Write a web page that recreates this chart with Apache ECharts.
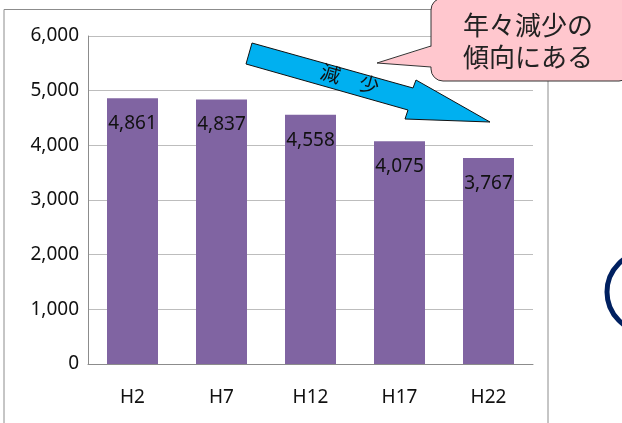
<!DOCTYPE html>
<html><head><meta charset="utf-8">
<script src="https://cdn.jsdelivr.net/npm/echarts@6/dist/echarts.min.js"></script>
<style>html,body{margin:0;padding:0;background:#fff}#c{width:622px;height:423px}</style>
</head><body><div id="c"></div>
<script>
const categories = ['H2', 'H7', 'H12', 'H17', 'H22'];
const values = [4861, 4837, 4558, 4075, 3767];
const yTicks = [0, 1000, 2000, 3000, 4000, 5000, 6000];
const calloutLines = ['年々減少の', '傾向にある'];
const arrowText = '減　少';

const chart = echarts.init(document.getElementById('c'), null, {renderer: 'canvas'});
const fmt = v => v.toLocaleString('en-US');
chart.setOption({
  animation: false,
  backgroundColor: '#fff',
  grid: {left: 88, right: 89, top: 36, bottom: 59, containLabel: false},
  xAxis: {
    type: 'category', data: categories,
    axisLine: {lineStyle: {color: '#8c8c8c', width: 1}},
    axisTick: {show: false},
    axisLabel: {color: '#111', fontFamily: 'Noto Sans', fontSize: 19, margin: 24}
  },
  yAxis: {
    type: 'value', min: yTicks[0], max: yTicks[yTicks.length - 1], interval: 1000,
    axisLine: {show: true, lineStyle: {color: '#8c8c8c', width: 1}},
    axisTick: {show: false},
    splitLine: {lineStyle: {color: '#bdbdbd', width: 1}},
    axisLabel: {color: '#111', fontFamily: 'Noto Sans', fontSize: 19, margin: 9, formatter: fmt}
  },
  series: [{
    type: 'bar', data: values, barWidth: 51,
    itemStyle: {color: '#8064A2'},
    label: {show: true, position: 'insideTop', distance: 16, color: '#111',
      fontFamily: 'Noto Sans', fontSize: 19, formatter: p => fmt(p.value)}
  }],
  graphic: [
    {type: 'polyline', z: 1, silent: true,
      shape: {points: [[4, 423], [4, 9.5], [548, 9.5], [548, 423]]},
      style: {stroke: '#8c8c8c', lineWidth: 1, fill: 'none'}},
    {type: 'polygon', z: 10, silent: true,
      shape: {points: [[252, 43], [413, 88], [416, 80], [490, 122], [405, 119], [408, 110], [246, 64]]},
      style: {fill: '#00B0F0', stroke: '#111', lineWidth: 1}},
    {type: 'text', z: 11, silent: true, x: 350, y: 79, rotation: -0.28,
      style: {text: arrowText, fill: '#111', font: '20px "Noto Sans CJK JP"', align: 'center', verticalAlign: 'middle'}},
    {type: 'rect', z: 10, silent: true,
      shape: {x: 431, y: -2, width: 200, height: 83, r: 12},
      style: {fill: '#FFC7CE', stroke: '#333', lineWidth: 1}},
    {type: 'polygon', z: 11, silent: true,
      shape: {points: [[433, 46], [377, 63], [433, 67]]},
      style: {fill: '#FFC7CE', stroke: 'none'}},
    {type: 'polyline', z: 12, silent: true,
      shape: {points: [[431, 46], [377, 63], [431, 67]]},
      style: {stroke: '#333', lineWidth: 1, fill: 'none'}},
    {type: 'text', z: 13, silent: true, x: 528, y: 25,
      style: {text: calloutLines[0], fill: '#222', font: '26px "Noto Sans CJK JP"', align: 'center', verticalAlign: 'middle'}},
    {type: 'text', z: 13, silent: true, x: 528, y: 57,
      style: {text: calloutLines[1], fill: '#222', font: '26px "Noto Sans CJK JP"', align: 'center', verticalAlign: 'middle'}},
    {type: 'circle', z: 10, silent: true, shape: {cx: 647, cy: 292, r: 40},
      style: {fill: 'none', stroke: '#002060', lineWidth: 5}}
  ]
});
</script></body></html>
